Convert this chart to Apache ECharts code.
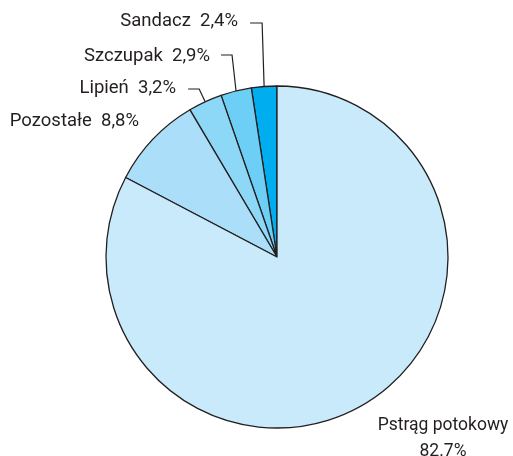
<!DOCTYPE html>
<html>
<head>
<meta charset="utf-8">
<script src="https://cdn.jsdelivr.net/npm/echarts@6/dist/echarts.min.js"></script>
<style>
html,body{margin:0;padding:0;background:#fff;}
#c{width:513px;height:456px;}
</style>
</head>
<body>
<div id="c"></div>
<script>
const categories = ['Sandacz', 'Szczupak', 'Lipień', 'Pozostałe', 'Pstrąg potokowy'];
const values = [2.4, 2.9, 3.2, 8.8, 82.7];
const colors = ['#00aeef', '#6dcff6', '#8dd7f7', '#abdff9', '#c8eafa'];

const FONT = "Roboto, 'Liberation Sans', Arial, sans-serif";

// label anchor placement (right-aligned texts on the upper-left, centered text lower-right)
const labelPlace = {
  0: {x: 238, y: 21, align: 'right', lineY: 23, bendDx: -2, len: 12},
  1: {x: 210, y: 56, align: 'right', lineY: 55, bendDx: -4, len: 11},
  2: {x: 176, y: 88, align: 'right', lineY: 89, bendDx: -6, len: 11},
  3: {x: 139, y: 121, align: 'right'},
  4: {x: 443, y: 439, align: 'center'}
};

const chart = echarts.init(document.getElementById('c'), null, {renderer: 'canvas'});
chart.setOption({
  animation: false,
  backgroundColor: '#fff',
  series: [{
    type: 'pie',
    center: [277, 257],
    radius: 171,
    startAngle: 90,
    clockwise: false,
    avoidLabelOverlap: false,
    itemStyle: {borderColor: '#231f20', borderWidth: 1.3},
    label: {
      show: true,
      color: '#231f20',
      fontFamily: FONT,
      fontSize: 18.5,
      lineHeight: 20,
      formatter: function (p) {
        if (p.dataIndex === 4) return p.name + '\n' + p.value.toFixed(1) + '%';
        return p.name + '  ' + p.value.toFixed(1).replace('.', ',') + '%';
      }
    },
    labelLine: {show: true, lineStyle: {color: '#231f20', width: 1.2}, length: 10, length2: 10},
    labelLayout: function (params) {
      const pl = labelPlace[params.dataIndex];
      const out = {x: pl.x, y: pl.y, align: pl.align, verticalAlign: 'middle'};
      if (pl.lineY !== undefined && params.labelLinePoints) {
        const p0 = params.labelLinePoints[0];
        const bx = p0[0] + pl.bendDx;
        out.labelLinePoints = [[p0[0], p0[1]], [bx, pl.lineY], [bx - pl.len, pl.lineY]];
      }
      return out;
    },
    data: categories.map(function (c, i) {
      return {
        name: c,
        value: values[i],
        itemStyle: {color: colors[i]},
        labelLine: {show: i < 3},
        label: i === 4 ? {fontSize: 17.5, lineHeight: 26} : undefined
      };
    })
  }]
});
</script>
</body>
</html>
